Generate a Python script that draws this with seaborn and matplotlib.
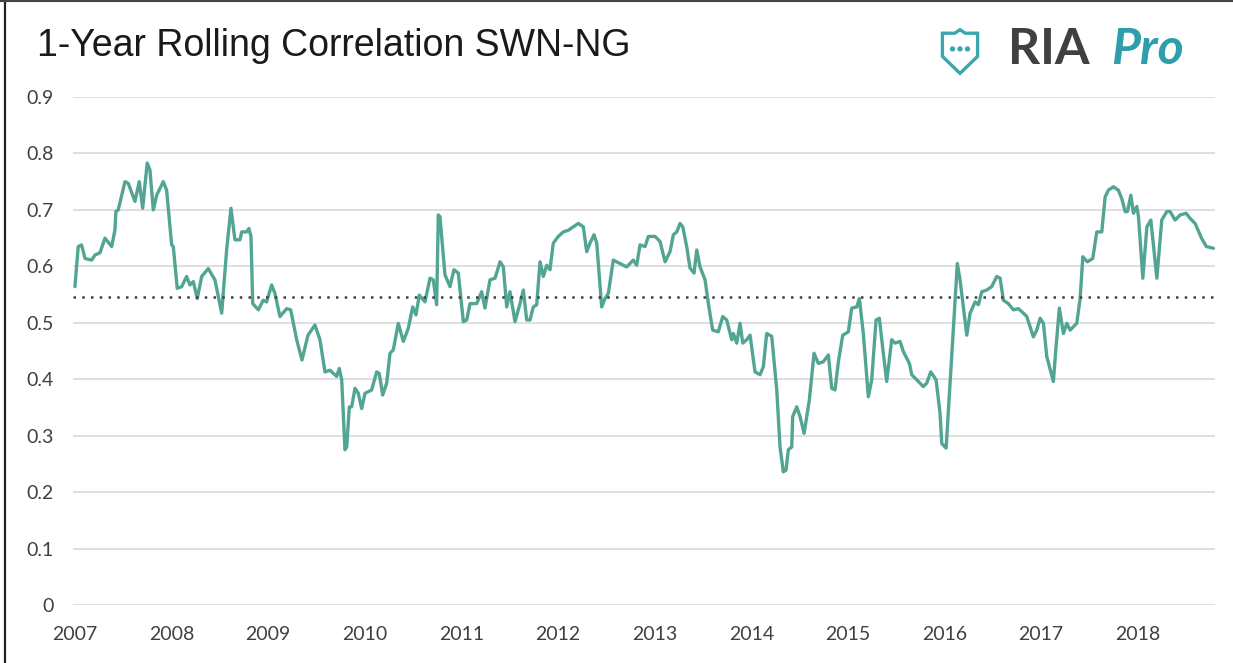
import numpy as np
import pandas as pd
import matplotlib
matplotlib.use("Agg")
import matplotlib.pyplot as plt
import seaborn as sns
from matplotlib.lines import Line2D
from matplotlib.patches import Polygon, Circle

years = [
    2007.000, 2007.034, 2007.069, 2007.104, 2007.173, 2007.207, 2007.259, 2007.311,
    2007.380, 2007.414, 2007.424, 2007.448, 2007.518, 2007.552, 2007.621, 2007.666,
    2007.701, 2007.748, 2007.776, 2007.811, 2007.846, 2007.914, 2007.949, 2008.001,
    2008.018, 2008.059, 2008.105, 2008.156, 2008.190, 2008.225, 2008.266, 2008.312,
    2008.380, 2008.449, 2008.519, 2008.570, 2008.615, 2008.656, 2008.708, 2008.726,
    2008.777, 2008.801, 2008.822, 2008.840, 2008.898, 2008.949, 2008.984, 2009.036,
    2009.070, 2009.122, 2009.192, 2009.233, 2009.295, 2009.350, 2009.412, 2009.484,
    2009.536, 2009.588, 2009.640, 2009.709, 2009.736, 2009.761, 2009.795, 2009.813,
    2009.840, 2009.864, 2009.899, 2009.933, 2009.968, 2010.002, 2010.071, 2010.123,
    2010.150, 2010.185, 2010.227, 2010.261, 2010.295, 2010.347, 2010.399, 2010.450,
    2010.496, 2010.530, 2010.564, 2010.623, 2010.675, 2010.709, 2010.744, 2010.761,
    2010.778, 2010.830, 2010.882, 2010.923, 2010.968, 2011.020, 2011.055, 2011.089,
    2011.158, 2011.210, 2011.244, 2011.296, 2011.348, 2011.400, 2011.434, 2011.469,
    2011.503, 2011.555, 2011.607, 2011.641, 2011.676, 2011.710, 2011.744, 2011.779,
    2011.814, 2011.848, 2011.883, 2011.917, 2011.951, 2012.003, 2012.055, 2012.107,
    2012.158, 2012.210, 2012.262, 2012.297, 2012.331, 2012.373, 2012.401, 2012.452,
    2012.487, 2012.521, 2012.572, 2012.642, 2012.711, 2012.779, 2012.814, 2012.849,
    2012.901, 2012.935, 2013.004, 2013.056, 2013.108, 2013.159, 2013.194, 2013.229,
    2013.263, 2013.291, 2013.332, 2013.366, 2013.408, 2013.436, 2013.470, 2013.522,
    2013.556, 2013.601, 2013.659, 2013.705, 2013.746, 2013.798, 2013.815, 2013.850,
    2013.884, 2013.912, 2013.953, 2013.988, 2014.039, 2014.091, 2014.125, 2014.160,
    2014.212, 2014.264, 2014.298, 2014.332, 2014.360, 2014.384, 2014.419, 2014.429,
    2014.471, 2014.505, 2014.547, 2014.601, 2014.650, 2014.694, 2014.746, 2014.798,
    2014.833, 2014.867, 2014.902, 2014.947, 2015.005, 2015.040, 2015.092, 2015.119,
    2015.160, 2015.212, 2015.247, 2015.292, 2015.326, 2015.367, 2015.402, 2015.454,
    2015.489, 2015.540, 2015.574, 2015.637, 2015.661, 2015.730, 2015.781, 2015.816,
    2015.858, 2015.913, 2015.954, 2015.972, 2016.017, 2016.075, 2016.133, 2016.161,
    2016.231, 2016.265, 2016.317, 2016.351, 2016.386, 2016.438, 2016.489, 2016.541,
    2016.576, 2016.610, 2016.661, 2016.713, 2016.765, 2016.817, 2016.852, 2016.920,
    2016.955, 2016.990, 2017.024, 2017.059, 2017.127, 2017.155, 2017.189, 2017.231,
    2017.266, 2017.300, 2017.369, 2017.404, 2017.432, 2017.479, 2017.535, 2017.576,
    2017.628, 2017.663, 2017.697, 2017.749, 2017.800, 2017.835, 2017.870, 2017.894,
    2017.929, 2017.956, 2017.991, 2018.008, 2018.053, 2018.095, 2018.136, 2018.198,
    2018.249, 2018.301, 2018.335, 2018.387, 2018.439, 2018.501, 2018.542, 2018.594,
    2018.663, 2018.711, 2018.784,
]

corr = [
    0.564, 0.635, 0.638, 0.614, 0.611, 0.620, 0.624, 0.650,
    0.635, 0.664, 0.697, 0.700, 0.750, 0.747, 0.715, 0.750,
    0.703, 0.783, 0.771, 0.700, 0.726, 0.750, 0.735, 0.638,
    0.635, 0.561, 0.564, 0.582, 0.567, 0.573, 0.543, 0.582,
    0.596, 0.576, 0.517, 0.629, 0.703, 0.647, 0.647, 0.661,
    0.661, 0.667, 0.653, 0.534, 0.523, 0.540, 0.537, 0.567,
    0.552, 0.511, 0.525, 0.523, 0.470, 0.434, 0.478, 0.496,
    0.470, 0.413, 0.416, 0.405, 0.419, 0.399, 0.275, 0.280,
    0.351, 0.351, 0.384, 0.375, 0.348, 0.375, 0.381, 0.413,
    0.410, 0.372, 0.393, 0.446, 0.452, 0.499, 0.467, 0.490,
    0.528, 0.514, 0.549, 0.537, 0.579, 0.576, 0.532, 0.691,
    0.688, 0.585, 0.564, 0.594, 0.588, 0.502, 0.505, 0.534,
    0.534, 0.555, 0.526, 0.576, 0.579, 0.608, 0.599, 0.528,
    0.555, 0.502, 0.534, 0.558, 0.505, 0.505, 0.528, 0.532,
    0.608, 0.582, 0.602, 0.594, 0.641, 0.653, 0.661, 0.664,
    0.670, 0.676, 0.670, 0.626, 0.641, 0.656, 0.641, 0.528,
    0.543, 0.552, 0.611, 0.605, 0.599, 0.611, 0.602, 0.638,
    0.635, 0.653, 0.653, 0.644, 0.608, 0.626, 0.656, 0.661,
    0.676, 0.670, 0.635, 0.597, 0.588, 0.629, 0.599, 0.576,
    0.534, 0.487, 0.484, 0.511, 0.505, 0.470, 0.481, 0.464,
    0.499, 0.464, 0.470, 0.478, 0.413, 0.408, 0.422, 0.481,
    0.476, 0.381, 0.280, 0.236, 0.239, 0.275, 0.280, 0.334,
    0.351, 0.334, 0.304, 0.363, 0.446, 0.428, 0.431, 0.443,
    0.384, 0.381, 0.431, 0.478, 0.484, 0.526, 0.528, 0.543,
    0.481, 0.369, 0.399, 0.505, 0.508, 0.446, 0.396, 0.470,
    0.464, 0.467, 0.449, 0.428, 0.408, 0.396, 0.387, 0.393,
    0.413, 0.399, 0.340, 0.286, 0.278, 0.440, 0.605, 0.576,
    0.478, 0.517, 0.537, 0.532, 0.555, 0.558, 0.564, 0.582,
    0.579, 0.540, 0.534, 0.523, 0.525, 0.517, 0.511, 0.475,
    0.487, 0.508, 0.499, 0.440, 0.396, 0.458, 0.526, 0.481,
    0.499, 0.487, 0.499, 0.543, 0.617, 0.608, 0.614, 0.661,
    0.661, 0.723, 0.735, 0.741, 0.735, 0.720, 0.697, 0.697,
    0.726, 0.694, 0.706, 0.688, 0.579, 0.670, 0.682, 0.579,
    0.682, 0.697, 0.697, 0.682, 0.691, 0.694, 0.685, 0.676,
    0.649, 0.635, 0.632,
]

avg_corr = 0.546
year_ticks = list(range(2007, 2019))
y_ticks = [0, 0.1, 0.2, 0.3, 0.4, 0.5, 0.6, 0.7, 0.8, 0.9]
y_labels = ["0", "0.1", "0.2", "0.3", "0.4", "0.5", "0.6", "0.7", "0.8", "0.9"]

df = pd.DataFrame({"year": years, "corr": corr})

sns.set_style("white")
plt.rcParams["font.family"] = ["Lato", "DejaVu Sans"]

fig = plt.figure(figsize=(12.33, 6.63), dpi=100)
ax = fig.add_axes([73 / 1233, 1 - 605 / 663, (1215 - 73) / 1233, (605 - 97) / 663])

line_color = "#52a592"
sns.lineplot(data=df, x="year", y="corr", ax=ax, color=line_color, linewidth=2.4)
ax.axhline(avg_corr, color="#404040", linestyle=(0, (1, 2.5)), linewidth=1.8, zorder=3)

ax.set_xlim(2006.98, 2018.80)
ax.set_ylim(0, 0.9)
ax.set_yticks(y_ticks)
ax.set_yticklabels(y_labels)
ax.set_xticks(year_ticks)
ax.set_xticklabels([str(y) for y in year_ticks])
ax.grid(axis="y", color="#d9d9d9", linewidth=1.2)
ax.set_axisbelow(True)
ax.set_xlabel("")
ax.set_ylabel("")
for s in ax.spines.values():
    s.set_visible(False)
ax.tick_params(axis="y", length=0, pad=14, labelsize=14, labelcolor="#404040")
ax.tick_params(axis="x", length=0, pad=15, labelsize=14, labelcolor="#404040")

# title
fig.text(37 / 1233, 1 - 46 / 663, "1-Year Rolling Correlation SWN-NG",
         family="Liberation Sans", fontsize=27, color="#1a1a1a", va="center", ha="left")

# logo
fig.text(1008 / 1233, 1 - 50 / 663, "RIA", family="Lato", fontsize=36,
         fontweight="bold", color="#404040", va="center", ha="left")
fig.text(1111 / 1233, 1 - 50 / 663, "Pro", family="Lato", fontsize=36,
         fontweight="bold", style="italic", color="#2f9eab", va="center", ha="left")
lax = fig.add_axes([938 / 1233, 1 - 76 / 663, 44 / 1233, 48 / 663])
lax.set_xlim(0, 1)
lax.set_ylim(0, 1.1)
lax.axis("off")
shield = Polygon([[0.1, 0.98], [0.38, 0.98], [0.5, 1.06], [0.62, 0.98], [0.9, 0.98],
                  [0.9, 0.45], [0.5, 0.06], [0.1, 0.45]],
                 closed=True, fill=False, edgecolor="#3aa6b0", linewidth=2.4)
lax.add_patch(shield)
for cx in [0.33, 0.5, 0.67]:
    lax.add_patch(Circle((cx, 0.62), 0.045, color="#3aa6b0"))

# frame edges seen on the left and top of the image
fig.add_artist(Line2D([5 / 1233, 5 / 1233], [0, 1], transform=fig.transFigure,
                      color="#222222", linewidth=1.6))
fig.add_artist(Line2D([0, 1], [1 - 1 / 663, 1 - 1 / 663], transform=fig.transFigure,
                      color="#444444", linewidth=1.5))

fig.savefig("out.png", dpi=100)
